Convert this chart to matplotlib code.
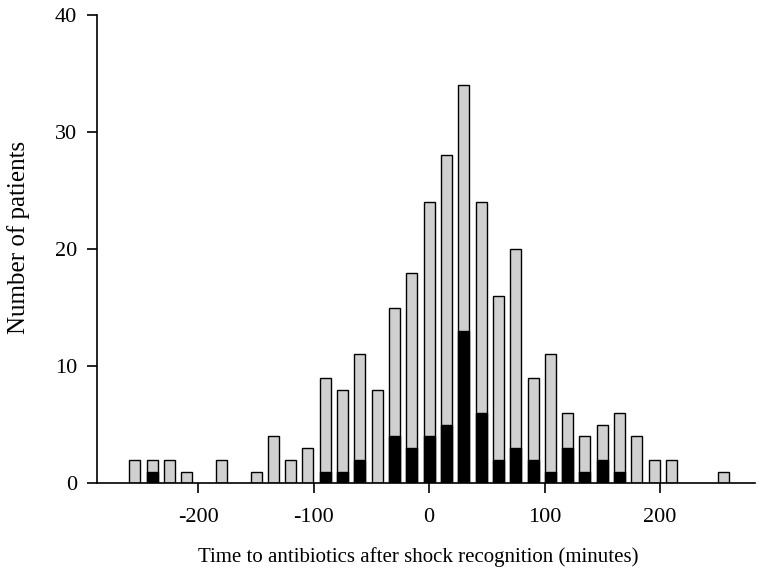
import matplotlib
matplotlib.use("Agg")
import matplotlib.pyplot as plt
import numpy as np

# bin centres, minutes (15-minute bins)
minutes = [-255, -240, -225, -210, -195, -180, -165, -150, -135, -120, -105,
           -90, -75, -60, -45, -30, -15, 0, 15, 30, 45, 60, 75, 90, 105,
           120, 135, 150, 165, 180, 195, 210, 225, 240, 255]
total_patients = [2, 2, 2, 1, 0, 2, 0, 1, 4, 2, 3,
                  9, 8, 11, 8, 15, 18, 24, 28, 34, 24, 16, 20, 9, 11,
                  6, 4, 5, 6, 4, 2, 2, 0, 0, 1]
black_patients = [0, 1, 0, 0, 0, 0, 0, 0, 0, 0, 0,
                  1, 1, 2, 0, 4, 3, 4, 5, 13, 6, 2, 3, 2, 1,
                  3, 1, 2, 1, 0, 0, 0, 0, 0, 0]
x_ticks = [-200, -100, 0, 100, 200]
y_ticks = [0, 10, 20, 30, 40]

plt.rcParams["font.family"] = ["Liberation Serif", "DejaVu Serif"]
plt.rcParams["axes.unicode_minus"] = False

fig = plt.figure(figsize=(7.74, 5.76), dpi=100)
ax = fig.add_axes([0.125, 0.161, 0.85, 0.813])

x = np.array(minutes)
tot = np.array(total_patients)
blk = np.array(black_patients)

mask = tot > 0
ax.bar(x[mask], tot[mask], width=9.5, color="#d0d0d0", edgecolor="black",
       linewidth=1.0, zorder=2)
bmask = blk > 0
ax.bar(x[bmask], blk[bmask], width=9.5, color="black", edgecolor="black",
       linewidth=1.0, zorder=3)

ax.set_xlim(-288, 282)
ax.set_ylim(0, 40)
ax.set_xticks(x_ticks)
ax.set_yticks(y_ticks)
for s in ("top", "right"):
    ax.spines[s].set_visible(False)
for s in ("left", "bottom"):
    ax.spines[s].set_linewidth(1.2)
ax.tick_params(direction="out", length=7, width=1.2, labelsize=16)
ax.tick_params(axis="x", pad=11)
ax.tick_params(axis="y", pad=7)

ax.set_xlabel("Time to antibiotics after shock recognition (minutes)",
              fontsize=15, labelpad=14)
ax.set_ylabel("Number of patients", fontsize=18, labelpad=18)
ax.xaxis.label.set_x(0.488)
ax.yaxis.label.set_y(0.525)

fig.savefig("out.png", dpi=100)
plt.close(fig)
